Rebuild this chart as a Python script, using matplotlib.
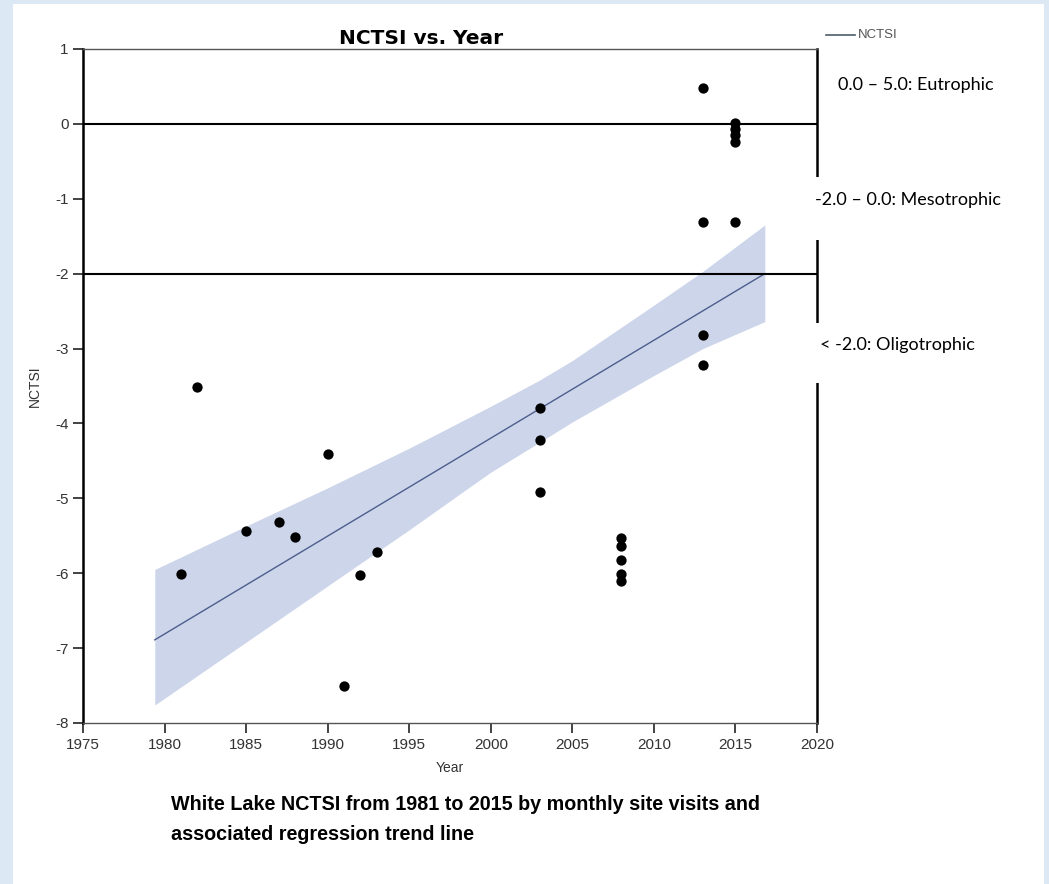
import numpy as np
import matplotlib.pyplot as plt
from matplotlib.patches import Rectangle
from matplotlib.lines import Line2D

plt.rcParams['font.family'] = ['Liberation Sans', 'DejaVu Sans']
plt.rcParams['axes.unicode_minus'] = False

# datos
anios = [1981, 1982, 1985, 1987, 1988, 1990, 1991, 1992, 1993,
         2003, 2003, 2003,
         2008, 2008, 2008, 2008, 2008,
         2013, 2013, 2013, 2013,
         2015, 2015, 2015, 2015, 2015]
nctsi = [-6.01, -3.52, -5.43, -5.32, -5.52, -4.41, -7.51, -6.02, -5.71,
         -3.80, -4.22, -4.92,
         -5.53, -5.63, -5.82, -6.01, -6.11,
         0.48, -1.31, -2.82, -3.22,
         0.01, -0.07, -0.15, -0.24, -1.31]

# linea de tendencia y banda de confianza
linea_anios = [1979.4, 2016.8]
linea_val = [-6.89, -2.0]
banda_anios = [1979.4, 1985, 1990, 1995, 2000, 2003, 2005, 2010, 2013, 2016.8]
banda_sup = [-5.95, -5.37, -4.86, -4.33, -3.77, -3.42, -3.16, -2.42, -1.97, -1.35]
banda_inf = [-7.76, -6.92, -6.17, -5.42, -4.65, -4.25, -3.98, -3.36, -3.00, -2.64]

limites = [0, -2]
xticks = list(range(1975, 2021, 5))
yticks = list(range(-8, 2))
etiquetas = [(838, 85, '0.0 \u2013 5.0: Eutrophic'),
             (815, 200, '-2.0 \u2013 0.0: Mesotrophic'),
             (820, 345, '< -2.0: Oligotrophic')]

W, H = 1049, 884
fig = plt.figure(figsize=(W / 100, H / 100), dpi=100)
fig.patch.set_facecolor('#dde8f5')
fig.add_artist(Rectangle((13 / W, 0), (1044 - 13) / W, (H - 4) / H,
                         transform=fig.transFigure, facecolor='white',
                         edgecolor='none', zorder=-5))

ax = fig.add_axes([83 / W, (H - 723) / H, (817 - 83) / W, (723 - 49) / H])
ax.fill_between(banda_anios, banda_inf, banda_sup, color='#cdd5ea', lw=0, zorder=1)
ax.plot(linea_anios, linea_val, color='#4d5d8c', lw=1.0, zorder=2)
for v in limites:
    ax.axhline(v, color='black', lw=1.5, zorder=2)
ax.scatter(anios, nctsi, s=55, color='black', zorder=3, lw=0)

ax.set_xlim(1975, 2020)
ax.set_ylim(-8, 1)
ax.set_xticks(xticks)
ax.set_yticks(yticks)
ax.tick_params(labelsize=11, colors='#222222', length=7, width=1.2, direction='out')
for lbl in ax.get_xticklabels() + ax.get_yticklabels():
    lbl.set_color('#333333')
ax.spines['left'].set_linewidth(1.8)
ax.spines['right'].set_linewidth(1.8)
ax.spines['top'].set_color('#555555')
ax.spines['top'].set_linewidth(1.0)
ax.spines['bottom'].set_color('#555555')
ax.spines['bottom'].set_linewidth(1.0)

fig.text(421 / W, 1 - 39 / H, 'NCTSI vs. Year', ha='center', va='center',
         fontsize=14.5, fontweight='bold', family=['DejaVu Sans'])
fig.text(450 / W, 1 - 768 / H, 'Year', ha='center', va='center', fontsize=10, color='#333333')
fig.text(35 / W, 1 - 386 / H, 'NCTSI', ha='center', va='center', rotation=90,
         fontsize=10, color='#333333')

# leyenda
fig.add_artist(Line2D([826 / W, 855 / W], [1 - 35 / H, 1 - 35 / H], color='#4d5d6c', lw=1.2))
fig.text(858 / W, 1 - 35 / H, 'NCTSI', ha='left', va='center', fontsize=9.5, color='#555555')

# cajas blancas con las categorias troficas
fig.add_artist(Rectangle((805 / W, 1 - 240 / H), 225 / W, 63 / H, transform=fig.transFigure,
                         facecolor='white', edgecolor='none', zorder=5))
fig.add_artist(Rectangle((805 / W, 1 - 383 / H), 225 / W, 60 / H, transform=fig.transFigure,
                         facecolor='white', edgecolor='none', zorder=5))
for x, y, t in etiquetas:
    fig.text(x / W, 1 - y / H, t, ha='left', va='center', fontsize=13,
             family=['Lato', 'DejaVu Sans'], zorder=6)

fig.text(171 / W, 1 - 805 / H, 'White Lake NCTSI from 1981 to 2015 by monthly site visits and',
         ha='left', va='center', fontsize=14.2, fontweight='bold')
fig.text(171 / W, 1 - 835 / H, 'associated regression trend line',
         ha='left', va='center', fontsize=14.2, fontweight='bold')

fig.savefig('out.png', dpi=100, facecolor=fig.get_facecolor())
